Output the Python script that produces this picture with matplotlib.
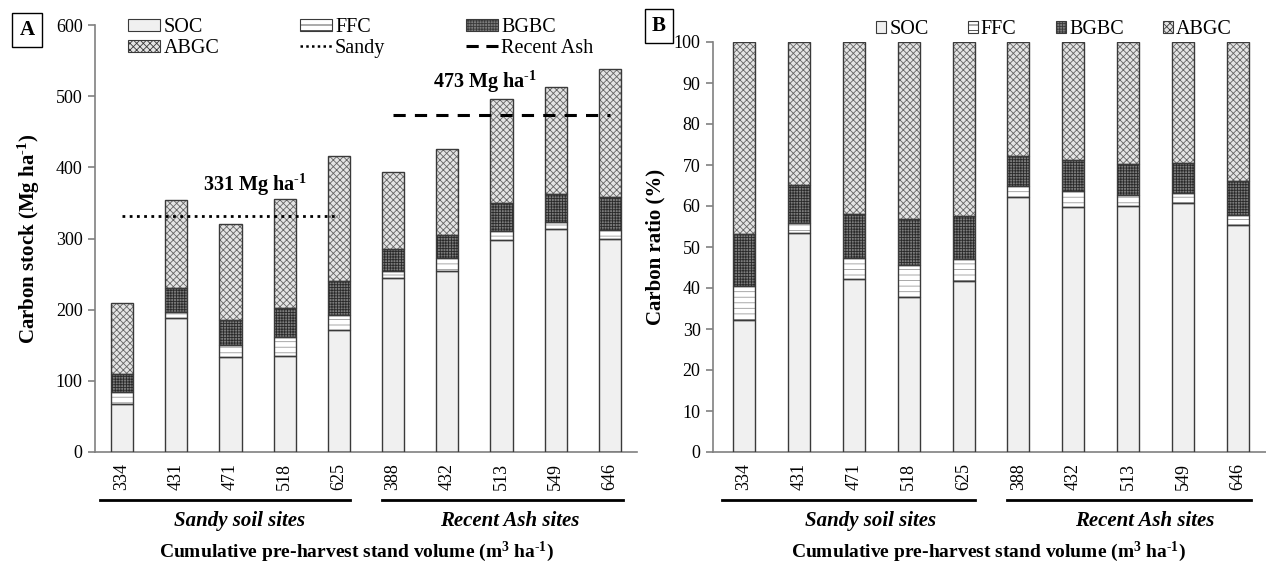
import matplotlib
matplotlib.use("Agg")
import matplotlib.pyplot as plt
import matplotlib.transforms as mtransforms
from matplotlib.patches import Patch
from matplotlib.lines import Line2D
import numpy as np

plt.rcParams['font.family'] = ['Liberation Serif', 'DejaVu Serif']
plt.rcParams['mathtext.fontset'] = 'custom'
plt.rcParams['mathtext.rm'] = 'Liberation Serif'
plt.rcParams['mathtext.bf'] = 'Liberation Serif:bold'
plt.rcParams['mathtext.it'] = 'Liberation Serif:italic'
plt.rcParams['hatch.linewidth'] = 0.6

# ---------------- data ----------------
volumes = ['334', '431', '471', '518', '625', '388', '432', '513', '549', '646']
groups = ['Sandy soil sites', 'Recent Ash sites']
components = ['SOC', 'FFC', 'BGBC', 'ABGC']

# Panel A: carbon stock (Mg ha-1)
soc_stock = [67, 188, 134, 135, 172, 245, 255, 298, 313, 299]
ffc_stock = [17, 9, 17, 27, 21, 10, 18, 13, 10, 13]
bgbc_stock = [26, 33, 35, 40, 47, 30, 32, 39, 40, 47]
abgc_stock = [99, 124, 134, 154, 176, 109, 121, 146, 150, 179]
sandy_mean = 331
ash_mean = 473

# Panel B: carbon ratio (%)
soc_pct = [32.3, 53.4, 42.1, 37.8, 41.6, 62.1, 59.7, 59.9, 60.7, 55.3]
ffc_pct = [8.3, 2.5, 5.3, 7.9, 5.4, 2.7, 3.9, 2.8, 2.4, 2.5]
bgbc_pct = [12.5, 9.2, 10.6, 11.1, 10.5, 7.3, 7.5, 7.5, 7.4, 8.4]
abgc_pct = [46.9, 34.9, 42.0, 43.2, 42.5, 27.9, 28.9, 29.8, 29.5, 33.8]

# ---------------- styles ----------------
faces = ['#f0f0f0', '#ffffff', '#7c7c7c', '#e4e4e4']
hatches = [None, '---', '++++++', 'xxxxx']
hatchcols = ['#f0f0f0', '#9a9a9a', '#2a2a2a', '#666666']
edge = '#3a3a3a'
spine_col = '#808080'

W, H = 1266, 563
fig = plt.figure(figsize=(W / 100, H / 100), dpi=100)


def px_axes(left, right, top, bottom):
    return fig.add_axes([left / W, (H - bottom) / H, (right - left) / W, (bottom - top) / H])


axA = px_axes(95, 637, 25, 452)
axB = px_axes(713, 1266, 42, 452)

x = np.arange(len(volumes))


def stacked(ax, series, width):
    bottom = np.zeros(len(volumes))
    for vals, fc, hc, hp in zip(series, faces, hatchcols, hatches):
        vals = np.asarray(vals, dtype=float)
        ax.bar(x, vals, width, bottom=bottom, color=fc, hatch=hp, edgecolor=hc,
               linewidth=0, zorder=2)
        ax.bar(x, vals, width, bottom=bottom, fill=False, edgecolor=edge,
               linewidth=1.0, zorder=3)
        bottom += vals


stacked(axA, [soc_stock, ffc_stock, bgbc_stock, abgc_stock], 0.41)
stacked(axB, [soc_pct, ffc_pct, bgbc_pct, abgc_pct], 0.40)

for ax in (axA, axB):
    for s in ('top', 'right'):
        ax.spines[s].set_visible(False)
    for s in ('left', 'bottom'):
        ax.spines[s].set_color(spine_col)
        ax.spines[s].set_linewidth(1.2)
    ax.set_xticks(x)
    ax.set_xticklabels(volumes, rotation=90, fontsize=13)
    ax.tick_params(axis='x', length=0, pad=8)
    ax.tick_params(axis='y', length=5, width=1.2, color=spine_col, labelsize=13, pad=4)

axA.set_xlim(-0.5, 9.5)
axA.set_ylim(0, 600)
axA.set_yticks(np.arange(0, 601, 100))
axB.set_xlim(-0.565, 9.51)
axB.set_ylim(0, 100)
axB.set_yticks(np.arange(0, 101, 10))

SUP = '$^{\\mathbf{\u2010}\\mathbf{1}}$'

axA.set_ylabel('Carbon stock (Mg ha' + SUP + ')', fontsize=15, fontweight='bold', labelpad=10)
axB.set_ylabel('Carbon ratio (%)', fontsize=15, fontweight='bold', labelpad=6)

# mean lines
axA.plot([0, 4], [sandy_mean, sandy_mean], linestyle=(0, (1, 1.6)), color='black', lw=2.0, zorder=4)
axA.plot([5, 9], [ash_mean, ash_mean], linestyle=(0, (4, 3)), color='black', lw=2.2, zorder=4)
axA.text(2.45, 375, '331 Mg ha' + SUP, fontsize=14.5, fontweight='bold', ha='center', va='center')
axA.text(6.7, 520, '473 Mg ha' + SUP, fontsize=14.5, fontweight='bold', ha='center', va='center')

# group lines and labels
for ax, sandy_c, ash_c in ((axA, 2.16, 7.15), (axB, 2.3, 7.3)):
    tr = mtransforms.blended_transform_factory(ax.transData, fig.transFigure)
    ax.plot([-0.4, 4.2], [0.1119, 0.1119], color='black', lw=2.0, transform=tr, clip_on=False)
    ax.plot([4.8, 9.24], [0.1119, 0.1119], color='black', lw=2.0, transform=tr, clip_on=False)
    ax.text(sandy_c, 0.0746, groups[0], transform=tr, ha='center', va='center',
            fontsize=15, fontweight='bold', fontstyle='italic')
    ax.text(ash_c, 0.0746, groups[1], transform=tr, ha='center', va='center',
            fontsize=15, fontweight='bold', fontstyle='italic')

xl = 'Cumulative pre-harvest stand volume (m$^{\\mathbf{3}}$ ha' + SUP + ')'
fig.text(356 / W, 0.0195, xl, ha='center', va='center', fontsize=14, fontweight='bold')
fig.text(988 / W, 0.0195, xl, ha='center', va='center', fontsize=14, fontweight='bold')

# legends
patch_h = [Patch(facecolor=fc, hatch=hp, edgecolor=edge, linewidth=0.8)
           for fc, hp in zip(faces, hatches)]
sandy_h = Line2D([], [], color='black', linestyle=(0, (1, 1.3)), lw=1.8)
ash_h = Line2D([], [], color='black', linestyle=(0, (4, 2.5)), lw=2.2)
handlesA = [patch_h[0], patch_h[3], patch_h[1], sandy_h, patch_h[2], ash_h]
labelsA = ['SOC', 'ABGC', 'FFC', 'Sandy', 'BGBC', 'Recent Ash']
legA = fig.legend(handlesA, labelsA, ncol=3, loc='upper left',
                  bbox_to_anchor=(114 / W, 1 - 4 / H), frameon=False, fontsize=14.5,
                  handlelength=1.6, handleheight=0.6, handletextpad=0.15,
                  columnspacing=4.0, labelspacing=0.1, borderpad=0.2)

legB = fig.legend(patch_h, components, ncol=4, loc='upper left',
                  bbox_to_anchor=(862 / W, 1 - 6 / H), frameon=False, fontsize=14.5,
                  handlelength=0.5, handleheight=0.5, handletextpad=0.15,
                  columnspacing=1.95, borderpad=0.2)

# panel labels
for lab, xp, yp in (('A', 27, 30), ('B', 659, 26)):
    fig.text(xp / W, 1 - yp / H, lab, ha='center', va='center', fontsize=15, fontweight='bold',
             bbox=dict(boxstyle='square,pad=0.35', facecolor='white', edgecolor='black', linewidth=1))

fig.savefig('out.png', dpi=100)
